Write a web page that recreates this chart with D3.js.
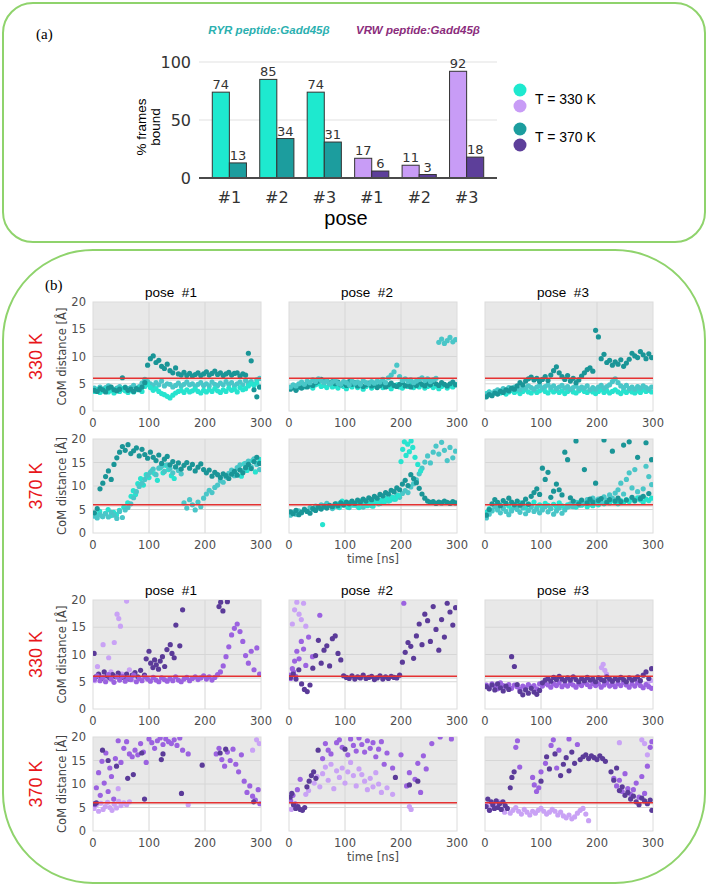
<!DOCTYPE html>
<html>
<head>
<meta charset="utf-8">
<script src="https://cdn.jsdelivr.net/npm/d3@7"></script>
<style>
body { margin: 0; background: #fff; }
text { font-family: "DejaVu Sans", sans-serif; }
</style>
</head>
<body>
<div id="fig"></div>
<script>
// ---------- panel (a) data ----------
var poseLabels = ["#1", "#2", "#3", "#1", "#2", "#3"];
var peptideOf = ["RYR", "RYR", "RYR", "VRW", "VRW", "VRW"];
var bound330 = [74, 85, 74, 17, 11, 92];
var bound370 = [13, 34, 31, 6, 3, 18];
var barTicks = [0, 50, 100];

// ---------- panel (b) data ----------
var timeTicks = [0, 100, 200, 300];
var distTicks = [0, 5, 10, 15, 20];
var cutoff = 6;
var poseTitles = ["pose  #1", "pose  #2", "pose  #3"];
var rowTemps = ["330 K", "370 K", "330 K", "370 K"];

// sampling times [ns] for the dense series
var times = [2.5,7.5,12.5,17.5,22.5,27.5,32.5,37.5,42.5,47.5,
  52.5,57.5,62.5,67.5,72.5,77.5,82.5,87.5,92.5,97.5,
  102.5,107.5,112.5,117.5,122.5,127.5,132.5,137.5,142.5,147.5,
  152.5,157.5,162.5,167.5,172.5,177.5,182.5,187.5,192.5,197.5,
  202.5,207.5,212.5,217.5,222.5,227.5,232.5,237.5,242.5,247.5,
  252.5,257.5,262.5,267.5,272.5,277.5,282.5,287.5,292.5,297.5];

// RYR 330 K
var ryr330_p1_dark = [3.8,3.6,4.1,3.9,3.5,4.2,4.4,3.9,3.7,4.0,
  6.1,4.3,3.8,4.0,3.6,4.1,3.9,4.4,5.2,8.4,
  9.6,10.1,8.9,9.3,8.2,7.8,8.6,7.4,7.0,7.9,
  6.8,6.6,7.1,6.5,6.9,6.4,6.7,7.0,6.5,6.8,
  7.2,6.6,6.9,7.3,6.7,7.0,6.5,6.8,7.1,6.6,
  6.9,7.0,6.4,6.8,6.6,10.6,9.2,3.9,2.6,4.4];
var ryr330_p1_light = [3.6,3.9,3.4,3.7,4.0,3.5,3.8,3.3,3.9,3.6,
  4.1,3.7,3.4,3.8,3.5,3.9,4.2,3.6,4.5,4.9,
  4.3,3.8,4.1,3.6,3.2,3.0,2.7,2.4,2.9,3.3,
  3.6,3.8,3.4,3.9,3.5,3.7,4.0,3.6,3.3,3.8,
  3.5,3.9,3.6,4.1,3.7,3.4,3.9,3.6,4.2,3.8,
  4.0,3.5,4.3,3.9,4.1,4.6,5.0,4.7,5.2,4.4];
var ryr330_p1_mid = [4.2,3.9,4.4,4.0,4.3,4.6,4.1,3.8,4.2,4.5,
  4.0,4.4,4.1,4.3,4.7,4.2,4.5,5.1,5.8,5.4,
  5.0,4.7,5.2,4.8,5.5,4.6,5.0,4.9,4.4,4.7,
  5.1,4.6,4.9,5.3,4.8,5.0,4.5,4.9,5.2,4.7,
  5.0,4.6,5.3,4.9,4.7,5.1,4.8,5.4,4.9,5.2,
  4.6,5.0,5.3,4.8,5.6,5.1,5.4,4.9,5.7,6.0];
var ryr330_p2_dark = [4.0,4.3,3.8,4.5,4.2,4.6,4.4,4.9,4.7,5.2,
  5.5,5.8,5.3,5.6,5.1,5.4,5.0,5.3,4.8,5.1,
  4.7,5.4,4.9,5.2,4.6,5.0,4.5,4.8,5.1,4.6,
  4.9,4.3,4.7,5.0,4.4,4.8,5.1,4.7,4.5,4.9,
  5.2,4.6,4.8,4.4,5.0,4.7,5.3,4.9,4.6,5.1,
  4.8,5.4,5.0,4.7,5.2,4.9,4.6,5.0,5.3,4.8];
var ryr330_p2_mid = [4.4,4.8,4.6,5.0,5.3,4.9,5.5,5.2,5.7,5.4,
  5.9,5.6,5.2,5.5,5.0,5.3,5.6,5.1,4.9,5.4,
  5.2,4.8,5.5,5.1,5.3,4.9,5.6,5.2,5.0,5.4,
  5.1,5.5,5.3,5.8,5.2,6.1,6.6,7.2,8.4,6.3,
  5.6,5.9,5.4,5.7,5.2,5.5,5.8,6.1,5.6,5.9,
  5.4,5.7,6.0,12.6,13.2,12.4,12.9,13.5,12.7,13.1];
var ryr330_p2_light = [4.2,4.5,4.0,4.3,4.7,4.4,4.9,4.6,4.2,4.8,
  5.0,4.5,4.7,4.3,4.9,4.4,4.6,4.2,4.8,4.5,
  4.1,4.7,4.4,4.9,4.3,4.6,4.0,4.5,4.8,4.2,
  4.6,4.4,4.9,4.3,4.7,4.5,4.1,4.6,4.8,4.4,
  4.2,4.7,4.5,4.9,4.3,4.6,4.4,4.8,4.2,4.5,
  4.7,4.3,4.6,4.1,4.5,4.8,4.2,4.6,4.4,4.9];
var ryr330_p3_dark = [2.6,3.0,2.8,3.3,3.1,3.6,3.4,3.9,3.7,4.2,
  4.0,4.6,5.2,4.8,5.5,5.9,6.2,5.7,6.0,5.4,
  5.8,6.3,5.6,6.6,7.4,8.1,7.0,6.3,5.8,6.5,
  5.5,6.0,5.2,5.7,6.4,7.0,7.6,7.9,7.3,14.8,
  13.6,9.6,10.4,8.9,9.3,8.4,9.0,8.6,9.4,8.2,
  8.8,9.5,10.6,10.1,9.8,10.9,10.3,9.6,10.5,9.8];
var ryr330_p3_light = [3.2,3.5,3.0,3.4,3.7,3.3,3.6,3.1,3.5,3.8,
  3.4,3.7,3.2,3.6,3.9,3.5,3.3,3.8,3.4,3.7,
  4.0,3.6,3.3,3.9,3.5,3.8,3.4,3.7,3.2,3.6,
  3.9,3.5,3.3,3.7,4.0,3.6,3.4,3.8,3.5,3.2,
  3.6,3.9,3.4,3.7,3.3,3.6,3.9,3.5,3.2,3.7,
  3.4,3.8,3.5,3.3,3.7,3.4,3.9,3.6,3.8,3.5];
var ryr330_p3_mid = [3.0,3.4,3.2,3.6,3.9,3.7,4.1,3.8,4.3,4.0,
  4.4,4.1,3.9,4.5,4.2,4.6,4.3,4.0,4.4,4.7,
  4.2,4.5,4.8,4.3,4.6,4.1,4.4,4.7,4.2,4.5,
  4.0,4.3,4.6,4.1,4.4,4.2,4.6,3.9,4.3,4.0,
  4.4,4.7,4.2,4.5,4.8,5.4,5.9,5.2,4.6,4.3,
  4.7,4.1,4.4,4.0,4.5,4.2,4.6,4.3,4.0,4.4];

// RYR 370 K
var ryr370_p1_dark = [4.3,5.2,9.4,10.6,12.0,13.2,11.4,14.6,16.0,17.2,
  18.4,17.6,18.8,16.9,17.5,18.1,16.4,17.8,16.7,15.9,
  17.2,16.1,15.4,16.6,14.8,15.7,16.3,14.5,15.2,14.1,
  14.9,13.6,14.4,15.0,13.8,14.6,13.2,14.0,14.7,13.5,
  12.8,13.4,12.1,12.9,12.4,11.8,12.6,12.2,11.6,12.5,
  13.1,12.3,13.4,12.8,13.9,14.6,13.7,15.2,16.1,14.8];
var ryr370_p1_mid = [3.6,3.2,3.9,3.5,4.1,3.4,4.4,3.8,3.1,4.6,
  3.3,4.9,5.4,6.2,7.5,8.8,9.9,10.6,11.4,12.3,
  12.9,13.6,12.4,13.8,14.2,13.1,14.5,13.7,12.8,14.0,
  13.3,12.6,6.4,5.3,7.1,6.0,4.9,6.6,5.6,7.4,
  8.3,9.1,8.6,9.7,10.2,11.1,10.8,11.9,12.7,13.4,
  12.2,13.9,14.5,13.2,14.8,15.3,14.1,15.8,14.6,13.5];
var ryr370_p1_light = [[2,4.0],[7,3.8],[12,4.6],[17,3.5],[22,4.2],[27,5.0],[32,3.7],[37,4.4],[42,3.9],[47,4.8],
  [55,5.5],[62,6.4],[68,7.8],[72,9.0],[76,8.2],[80,10.5],[85,11.6],[90,10.2],[95,12.4],[100,11.8],
  [105,13.2],[110,12.6],[115,11.2],[120,13.9],[125,12.8],[130,14.4],[135,13.5],[140,12.2],[145,11.6],
  [255,12.6],[260,13.8],[265,12.1],[270,14.7],[275,13.3],[280,14.2],[285,15.4],[290,13.0],[295,14.9],[299,15.6]];
var ryr370_p2_dark = [4.5,4.1,4.8,3.9,4.4,5.0,4.6,4.2,5.2,4.8,
  5.5,5.1,5.7,5.3,5.9,5.6,6.2,5.8,6.4,6.0,
  6.6,6.2,6.8,6.3,7.0,6.6,7.2,6.8,7.5,7.1,
  7.8,7.4,8.2,7.9,8.6,8.3,9.1,8.8,9.6,9.2,
  10.4,11.2,10.1,12.4,11.6,10.7,9.5,8.3,7.4,6.8,
  6.5,6.7,6.3,6.6,6.4,6.8,6.5,6.3,6.7,6.4];
var ryr370_p2_mid = [3.8,4.4,4.0,4.7,4.3,5.1,4.6,5.4,5.0,5.7,
  5.3,6.0,5.5,6.3,5.8,5.2,6.1,5.6,6.5,5.9,
  6.2,5.4,6.7,6.0,5.7,6.4,5.5,6.9,6.2,5.8,
  6.6,7.1,6.3,6.9,7.4,6.8,7.7,7.2,8.1,7.6,
  8.4,9.0,8.6,9.8,10.5,11.3,12.6,13.8,15.1,16.4,
  14.9,17.2,18.5,16.8,19.3,17.6,15.4,18.2,16.0,17.4];
var ryr370_p2_light = [[60,1.8],[80,5.6],[85,6.2],[90,5.4],[95,6.8],[100,6.1],[105,5.5],[110,6.5],[115,5.9],[120,6.3],
  [125,5.4],[130,6.9],[135,6.1],[140,5.8],[145,6.4],[150,5.7],[155,6.7],[160,6.2],[165,7.0],[170,6.5],
  [175,7.3],[180,6.9],[185,7.6],[190,7.2],[195,8.0],[200,15.2],[203,17.8],[206,19.4],[209,16.5],[212,18.9],
  [215,17.3],[218,19.6],[221,18.2],[225,16.1],[230,14.6],[235,13.2]];
var ryr370_p3_dark = [3.8,5.0,6.2,7.1,6.5,5.8,6.9,6.3,7.4,6.6,
  6.0,6.8,5.9,6.4,7.2,6.1,7.8,8.6,9.4,8.2,
  13.8,11.4,12.9,7.6,8.9,10.4,9.2,8.1,17.2,15.6,
  7.5,6.8,19.6,6.2,7.0,13.5,6.4,7.2,6.6,10.6,
  6.9,7.3,19.8,6.5,7.1,17.4,6.8,7.4,6.7,18.7,
  7.0,19.4,7.6,6.9,16.1,7.3,7.8,19.2,8.4,15.6];
var ryr370_p3_mid = [3.2,4.0,4.8,5.6,4.9,4.3,5.2,4.6,3.9,4.7,
  5.4,5.0,4.4,5.3,4.1,4.8,5.5,4.6,5.1,4.3,
  4.9,5.6,4.5,5.2,4.0,4.7,5.3,4.2,4.9,5.5,
  6.2,5.6,6.5,5.9,6.8,6.3,7.1,6.6,7.4,6.8,
  7.2,6.5,7.7,7.0,8.1,7.4,8.5,9.2,10.6,8.3,
  11.4,12.8,9.6,13.5,8.8,7.6,9.4,14.2,12.0,10.3];
var ryr370_p3_light = [4.4,5.2,4.7,5.8,5.3,6.0,5.5,6.3,5.7,5.1,
  6.1,5.6,6.4,5.9,5.3,6.2,5.8,6.6,5.4,6.0,
  5.5,6.3,5.9,5.2,6.1,5.6,6.4,5.8,5.3,6.0,
  5.7,6.2,5.5,6.5,5.9,6.3,5.6,6.1,5.8,6.4,
  6.0,6.6,6.2,6.8,6.4,7.0,6.6,6.2,6.9,6.5,
  7.1,6.7,7.3,6.8,7.5,7.0,6.6,7.2,6.9,7.4];

// VRW 330 K
var vrw330_p1_dark = [[2,10.2],[5,5.9],[10,6.4],[15,5.6],[20,6.8],[25,6.1],[30,5.7],[35,6.3],[40,5.9],[45,6.6],
  [50,6.0],[55,5.8],[60,6.4],[65,5.5],[70,6.2],[75,6.7],[80,5.9],[85,7.1],[92,6.2],[95,9.2],
  [100,10.6],[103,8.4],[107,7.6],[110,9.0],[113,8.1],[117,7.3],[120,8.8],[124,9.6],[128,7.8],[132,10.9],
  [138,11.8],[141,10.2],[145,9.4],[148,15.4],[155,11.6],[160,18.2],[225,18.8],[228,19.6],[232,18.0],[240,19.7]];
var vrw330_p1_mid = [5.4,6.1,5.2,5.8,5.0,6.3,5.5,4.9,5.9,5.3,
  6.0,5.1,5.7,5.4,6.2,5.0,5.6,5.2,5.9,5.5,
  5.1,5.8,5.3,5.0,5.7,5.4,5.1,5.6,5.2,5.9,
  5.3,5.0,5.5,5.8,5.2,5.6,5.9,5.4,5.7,6.1,
  5.5,5.9,5.3,5.8,6.3,6.8,7.9,9.6,11.4,13.6,
  14.8,15.6,14.2,12.4,9.8,8.4,10.6,7.2,11.2,6.4];
var vrw330_p1_light = [[3,5.2],[8,7.8],[12,6.1],[18,11.8],[22,5.6],[28,9.4],[32,6.8],[38,12.2],[43,17.4],[46,16.6],
  [49,15.2],[52,6.4],[56,5.8],[60,19.8],[65,7.2],[70,5.4]];
var vrw330_p2_dark = [5.8,6.4,5.5,7.2,4.6,3.6,3.2,4.4,7.5,9.8,
  12.6,8.4,10.8,11.6,7.9,12.9,13.4,10.2,9.0,6.1,
  5.8,5.6,6.1,5.5,5.9,5.7,6.2,5.6,5.8,6.0,
  5.4,5.7,6.1,5.5,5.9,5.6,6.0,5.8,5.7,6.2,
  8.6,10.4,12.2,11.5,9.3,13.4,15.6,11.8,17.4,16.2,
  12.4,18.8,14.6,10.8,16.4,13.2,19.4,17.8,15.4,18.6];
var vrw330_p2_mid = [[2,6.2],[3,5.6],[6,7.4],[8,6.8],[10,8.8],[12,6.0],[14,10.6],[18,9.2],[22,12.4],[26,11.0],
  [30,8.0],[35,13.2],[42,9.6],[55,17.2],[205,19.4]];
var vrw330_p2_light = [[6,15.6],[10,18.2],[14,19.6],[18,17.4],[22,16.4],[26,19.4],[30,15.2]];
var vrw330_p3_dark = [4.1,3.7,4.4,3.5,4.6,3.9,3.3,4.2,3.6,9.6,
  7.8,4.5,3.2,2.6,3.5,2.9,3.8,3.1,2.7,3.4,
  4.8,5.3,5.6,5.1,5.8,5.4,6.0,5.5,5.2,5.7,
  5.3,5.9,5.4,5.0,5.6,5.2,5.8,5.3,5.5,5.0,
  5.7,5.4,5.2,5.9,5.5,5.1,5.6,5.3,5.8,5.4,
  5.0,5.7,5.3,5.5,5.9,5.2,6.2,6.8,5.6,7.4];
var vrw330_p3_mid = [4.4,3.9,4.6,4.2,3.7,4.8,4.3,4.0,4.5,3.8,
  4.4,4.1,3.6,4.2,3.9,4.5,4.0,4.3,3.7,4.6,
  4.2,4.7,4.4,4.0,4.6,4.3,4.8,4.1,4.5,4.2,
  4.7,4.4,4.0,4.6,4.3,4.9,4.5,4.1,4.7,4.3,
  4.6,4.0,4.4,4.8,4.2,4.5,4.1,4.7,4.3,4.9,
  4.4,4.0,4.6,4.2,4.8,4.3,3.9,4.5,4.1,3.8];
var vrw330_p3_light = [[208,7.6],[211,8.2],[214,7.1],[217,6.4],[290,4.6],[296,5.2]];

// VRW 370 K
var vrw370_p1_dark = [[3,5.8],[6,6.0],[17,17.2],[27,15.0],[42,13.8],[62,11.2],[72,12.0],[87,16.6],[92,6.8],[122,15.2],
  [125,16.4],[158,8.0],[195,14.0],[227,16.6],[237,17.4],[287,6.2]];
var vrw370_p1_mid = [[3,5.6],[6,9.2],[10,12.4],[13,7.6],[16,14.8],[20,10.2],[23,16.6],[27,8.4],[30,13.4],[33,11.6],
  [37,6.8],[40,15.4],[45,19.2],[50,14.6],[55,17.6],[60,19.0],[65,16.4],[70,15.8],[75,17.2],[80,16.2],
  [85,18.6],[90,16.8],[95,14.6],[100,19.6],[105,18.8],[110,17.6],[115,19.2],[120,19.8],[125,18.4],[130,19.6],
  [135,19.0],[140,18.6],[145,19.4],[150,18.2],[155,19.8],[160,17.2],[170,16.4],[220,16.4],[225,17.6],[230,15.2],
  [235,13.8],[240,16.8],[245,15.0],[250,17.4],[255,14.2],[260,12.6],[265,16.2],[270,10.6],[275,8.2],[280,9.6],
  [285,7.4],[290,6.6],[295,8.8],[298,5.8]];
var vrw370_p1_light = [[2,4.8],[6,5.6],[10,4.2],[14,5.9],[18,4.6],[22,5.2],[26,6.1],[30,5.0],[34,4.4],[38,5.7],
  [42,4.9],[45,9.0],[46,6.3],[50,5.4],[55,6.0],[60,5.6],[65,6.2],[170,5.6],[285,17.2],[292,19.4],[297,18.6]];
var vrw370_p2_dark = [[2,7.2],[5,8.0],[8,5.6],[12,4.8],[16,5.2],[20,4.6],[24,4.4],[28,5.0],[32,9.4],[36,10.6],
  [40,11.8],[44,12.6],[48,11.2],[52,17.2],[100,17.4],[190,11.4],[215,9.8],[230,10.6]];
var vrw370_p2_mid = [[3,6.4],[7,7.6],[11,5.8],[15,8.8],[20,11.0],[60,15.4],[65,18.6],[70,17.2],[75,16.4],[85,18.8],
  [90,19.4],[95,17.8],[105,16.2],[110,19.6],[115,18.2],[120,17.0],[125,19.8],[130,18.4],[135,16.8],[140,19.2],
  [145,17.6],[150,18.8],[155,15.8],[160,17.4],[165,19.0],[170,14.2],[175,16.6],[185,13.4],[200,16.2],[210,9.6],
  [215,12.4],[225,11.0],[230,14.4],[235,8.2],[240,16.0],[245,13.2],[255,18.6],[270,20.0],[290,19.6]];
var vrw370_p2_light = [[4,4.6],[30,7.8],[35,8.6],[45,10.2],[50,11.6],[55,9.4],[60,12.2],[65,13.6],[70,10.8],[75,14.2],
  [80,9.0],[85,12.8],[90,11.4],[95,13.4],[100,10.2],[105,12.6],[110,14.6],[115,11.8],[120,9.6],[125,13.2],
  [130,12.0],[135,10.6],[140,8.8],[145,11.2],[150,9.4],[155,12.4],[160,10.0],[165,8.2],[175,9.2],[185,7.8],
  [215,5.2],[218,4.6]];
var vrw370_p3_dark = [[2,5.2],[5,6.8],[8,4.4],[11,6.2],[14,5.6],[17,4.8],[20,6.4],[23,5.0],[26,5.8],[29,4.6],
  [32,6.2],[36,5.4],[40,4.8],[45,9.2],[48,11.4],[52,12.6],[100,10.6],[110,15.8],[115,13.2],[125,16.4],
  [135,11.8],[140,14.2],[145,15.6],[150,12.8],[155,16.8],[160,14.4],[170,15.2],[175,15.8],[180,16.2],[185,15.4],
  [190,16.0],[195,15.6],[200,15.2],[205,16.0],[210,15.4],[215,14.8],[225,12.6],[230,10.8],[235,13.4],[240,8.6],
  [245,9.4],[250,7.6],[255,8.2],[260,6.8],[265,7.4],[270,6.2],[275,5.6],[280,7.0],[285,6.4],[290,5.8],
  [295,6.6],[298,4.4]];
var vrw370_p3_mid = [[55,17.8],[58,19.2],[62,13.6],[85,11.4],[88,9.8],[92,8.4],[96,9.2],[100,12.6],[108,14.4],[118,18.2],
  [122,19.4],[128,13.4],[132,17.2],[150,19.6],[165,18.4],[230,11.2],[235,9.6],[240,10.8],[245,8.4],[250,12.2],
  [255,9.0],[260,7.8],[265,8.8],[270,10.2],[275,7.2],[280,11.6],[285,8.0],[290,13.8],[295,17.8],[298,19.0]];
var vrw370_p3_light = [[3,5.6],[8,4.4],[12,5.2],[16,4.8],[20,5.8],[25,6.2],[30,4.6],[35,4.0],[40,4.8],[45,3.8],
  [50,4.4],[55,5.0],[60,4.2],[65,3.6],[70,4.6],[75,4.0],[80,3.4],[85,4.2],[90,3.8],[95,4.4],
  [100,4.8],[105,4.2],[110,3.6],[115,4.0],[120,4.6],[125,4.2],[130,3.4],[135,4.0],[140,3.2],[145,2.8],
  [150,3.4],[155,2.6],[160,3.0],[165,3.8],[170,4.4],[175,4.8],[180,3.6],[185,2.2],[240,18.8],[280,19.4],
  [285,18.6],[290,16.2]];

// ---------- colours ----------
var ryrCol = { light: "#27e3cf", mid: "#4ac6c8", dark: "#1a9597" };
var vrwCol = { light: "#c9a2f5", mid: "#9b62e0", dark: "#5b3b99" };

var w = 709, h = 887;
var svg = d3.select("#fig").append("svg")
  .attr("width", w).attr("height", h)
  .style("background", "#fff");

// rounded frames
svg.append("rect").attr("x", 3).attr("y", 3).attr("width", 702).attr("height", 239)
  .attr("rx", 30).attr("fill", "none").attr("stroke", "#8fd36c").attr("stroke-width", 2);
svg.append("rect").attr("x", 3).attr("y", 250).attr("width", 702).attr("height", 633)
  .attr("rx", 90).attr("fill", "none").attr("stroke", "#8fd36c").attr("stroke-width", 2);

// ================= panel (a) =================
svg.append("text").attr("x", 36).attr("y", 39).text("(a)")
  .style("font-family", "'Liberation Serif', serif").style("font-size", "15px");
svg.append("text").attr("x", 269).attr("y", 34).attr("text-anchor", "middle")
  .text("RYR peptide:Gadd45β")
  .style("font-family", "'Liberation Sans', Arial, sans-serif").style("font-size", "11.5px")
  .style("font-weight", "bold").style("font-style", "italic").attr("fill", "#2bb0b0");
svg.append("text").attr("x", 418).attr("y", 34).attr("text-anchor", "middle")
  .text("VRW peptide:Gadd45β")
  .style("font-family", "'Liberation Sans', Arial, sans-serif").style("font-size", "11.5px")
  .style("font-weight", "bold").style("font-style", "italic").attr("fill", "#8b2d7c");

var xb = d3.scaleBand().domain(d3.range(poseLabels.length)).range([199, 497]).padding(0.28);
var yb = d3.scaleLinear().domain([0, 100]).range([178, 62]);
var half = xb.bandwidth() / 2;

var gA = svg.append("g");
gA.selectAll("line.grid").data(barTicks.filter(function(t) { return t > 0; }))
  .enter().append("line")
  .attr("x1", 199).attr("x2", 497)
  .attr("y1", function(d) { return yb(d); }).attr("y2", function(d) { return yb(d); })
  .attr("stroke", "#e2e2e2").attr("stroke-width", 1.2);
gA.selectAll("text.ytick").data(barTicks).enter().append("text")
  .attr("x", 191).attr("y", function(d) { return yb(d); }).attr("dy", "0.36em")
  .attr("text-anchor", "end").attr("fill", "#333").style("font-size", "16px")
  .text(function(d) { return d; });

function barColor(i, hot) {
  if (peptideOf[i] === "RYR") return hot ? "#1c9d9e" : "#1ee9cf";
  return hot ? "#5d3f9a" : "#c89cf6";
}
var groups = gA.selectAll("g.grp").data(d3.range(poseLabels.length)).enter().append("g");
groups.append("rect")
  .attr("x", function(i) { return xb(i); })
  .attr("y", function(i) { return yb(bound330[i]); })
  .attr("width", half).attr("height", function(i) { return yb(0) - yb(bound330[i]); })
  .attr("fill", function(i) { return barColor(i, false); })
  .attr("stroke", "#333").attr("stroke-width", 1);
groups.append("rect")
  .attr("x", function(i) { return xb(i) + half; })
  .attr("y", function(i) { return yb(bound370[i]); })
  .attr("width", half).attr("height", function(i) { return yb(0) - yb(bound370[i]); })
  .attr("fill", function(i) { return barColor(i, true); })
  .attr("stroke", "#333").attr("stroke-width", 1);
groups.append("text")
  .attr("x", function(i) { return xb(i) + half / 2; })
  .attr("y", function(i) { return yb(bound330[i]) - 3; })
  .attr("text-anchor", "middle").attr("fill", "#333").style("font-size", "13px")
  .text(function(i) { return bound330[i]; });
groups.append("text")
  .attr("x", function(i) { return xb(i) + half * 1.5; })
  .attr("y", function(i) { return yb(bound370[i]) - 3; })
  .attr("text-anchor", "middle").attr("fill", "#333").style("font-size", "13px")
  .text(function(i) { return bound370[i]; });
groups.append("text")
  .attr("x", function(i) { return xb(i) + half; })
  .attr("y", 203)
  .attr("text-anchor", "middle").attr("fill", "#333").style("font-size", "16px")
  .text(function(i) { return poseLabels[i]; });

gA.append("line").attr("x1", 199).attr("x2", 497).attr("y1", yb(0)).attr("y2", yb(0))
  .attr("stroke", "#4a4a4a").attr("stroke-width", 2);

gA.append("text").attr("transform", "translate(146,127) rotate(-90)")
  .attr("text-anchor", "middle").style("font-family", "'Liberation Sans', Arial, sans-serif")
  .style("font-size", "13.5px")
  .selectAll("tspan").data(["% frames", "bound"]).enter().append("tspan")
  .attr("x", 0).attr("dy", function(d, i) { return i ? "1.05em" : "0"; })
  .text(function(d) { return d; });
gA.append("text").attr("x", 346).attr("y", 225).attr("text-anchor", "middle")
  .style("font-family", "'Liberation Sans', Arial, sans-serif").style("font-size", "20px")
  .text("pose");

// legend
var legend = [
  { y: 90, c: "#1ee9cf" }, { y: 106, c: "#c89cf6" },
  { y: 129, c: "#1c9d9e" }, { y: 145, c: "#5d3f9a" }
];
gA.selectAll("circle.leg").data(legend).enter().append("circle")
  .attr("cx", 520).attr("cy", function(d) { return d.y; }).attr("r", 6.5)
  .attr("fill", function(d) { return d.c; });
gA.append("text").attr("x", 535).attr("y", 104).text("T = 330 K")
  .style("font-family", "'Liberation Sans', Arial, sans-serif").style("font-size", "14px");
gA.append("text").attr("x", 535).attr("y", 142).text("T = 370 K")
  .style("font-family", "'Liberation Sans', Arial, sans-serif").style("font-size", "14px");

// ================= panel (b) =================
svg.append("text").attr("x", 45).attr("y", 290).text("(b)")
  .style("font-family", "'Liberation Serif', serif").style("font-size", "15px");

var rows = [
  { col: ryrCol, plots: [[ryr330_p1_mid, ryr330_p1_light, ryr330_p1_dark], [ryr330_p2_light, ryr330_p2_dark, ryr330_p2_mid], [ryr330_p3_light, ryr330_p3_mid, ryr330_p3_dark]],
    keys: [["mid", "light", "dark"], ["light", "dark", "mid"], ["light", "mid", "dark"]] },
  { col: ryrCol, plots: [[ryr370_p1_light, ryr370_p1_mid, ryr370_p1_dark], [ryr370_p2_mid, ryr370_p2_light, ryr370_p2_dark], [ryr370_p3_light, ryr370_p3_mid, ryr370_p3_dark]],
    keys: [["light", "mid", "dark"], ["mid", "light", "dark"], ["light", "mid", "dark"]] },
  { col: vrwCol, plots: [[vrw330_p1_light, vrw330_p1_dark, vrw330_p1_mid], [vrw330_p2_light, vrw330_p2_mid, vrw330_p2_dark], [vrw330_p3_light, vrw330_p3_mid, vrw330_p3_dark]],
    keys: [["light", "dark", "mid"], ["light", "mid", "dark"], ["light", "mid", "dark"]] },
  { col: vrwCol, plots: [[vrw370_p1_light, vrw370_p1_mid, vrw370_p1_dark], [vrw370_p2_light, vrw370_p2_mid, vrw370_p2_dark], [vrw370_p3_light, vrw370_p3_mid, vrw370_p3_dark]],
    keys: [["light", "mid", "dark"], ["light", "mid", "dark"], ["light", "mid", "dark"]] }
];
var rowTop = [302, 439, 600, 737];
var rowH = [109, 94, 109, 94];
var colLeft = [93, 289, 485];
var pw = 168;
var shadeFrom = 5.5;

function pts(s) {
  return s.map(function(v, i) {
    return Array.isArray(v) ? { t: v[0], d: v[1] } : { t: times[i], d: v };
  }).filter(function(p) { return p.d != null && p.t != null; });
}

rows.forEach(function(row, r) {
  var top = rowTop[r], ph = rowH[r];
  var y = d3.scaleLinear().domain([0, 20]).range([top + ph, top]);

  // temperature label
  svg.append("text")
    .attr("transform", "translate(42," + (top + ph / 2) + ") rotate(-90)")
    .attr("text-anchor", "middle").attr("fill", "#e8161b")
    .style("font-family", "'Liberation Sans', Arial, sans-serif").style("font-size", "18px")
    .text(rowTemps[r]);
  svg.append("text")
    .attr("transform", "translate(66," + (top + ph / 2) + ") rotate(-90)")
    .attr("text-anchor", "middle").attr("fill", "#444").style("font-size", "11.5px")
    .text("CoM distance [Å]");

  row.plots.forEach(function(series, c) {
    var left = colLeft[c];
    var x = d3.scaleLinear().domain([0, 300]).range([left, left + pw]);
    var g = svg.append("g");
    var cid = "clip" + r + c;
    svg.append("clipPath").attr("id", cid).append("rect")
      .attr("x", left).attr("y", top).attr("width", pw).attr("height", ph);

    g.append("rect").attr("x", left).attr("y", y(20)).attr("width", pw)
      .attr("height", y(shadeFrom) - y(20)).attr("fill", "#e8e8e8");
    g.selectAll("line.gx").data(timeTicks.slice(1, -1)).enter().append("line")
      .attr("x1", function(d) { return x(d); }).attr("x2", function(d) { return x(d); })
      .attr("y1", top).attr("y2", top + ph).attr("stroke", "#d6d6d6");
    g.selectAll("line.gy").data(distTicks.slice(1, -1)).enter().append("line")
      .attr("x1", left).attr("x2", left + pw)
      .attr("y1", function(d) { return y(d); }).attr("y2", function(d) { return y(d); })
      .attr("stroke", "#d6d6d6");
    g.append("rect").attr("x", left).attr("y", top).attr("width", pw).attr("height", ph)
      .attr("fill", "none").attr("stroke", "#dcdcdc");

    var dots = g.append("g").attr("clip-path", "url(#" + cid + ")");
    series.forEach(function(s, k) {
      dots.selectAll(null).data(pts(s)).enter().append("circle")
        .attr("cx", function(p) { return x(p.t); })
        .attr("cy", function(p) { return y(p.d); })
        .attr("r", 2.6)
        .attr("fill", row.col[row.keys[c][k]]);
    });

    g.append("line").attr("x1", left).attr("x2", left + pw)
      .attr("y1", y(cutoff)).attr("y2", y(cutoff))
      .attr("stroke", "#e53232").attr("stroke-width", 1.4);

    // x ticks
    g.selectAll("text.xt").data(timeTicks).enter().append("text")
      .attr("x", function(d) { return x(d); }).attr("y", top + ph + 16)
      .attr("text-anchor", "middle").attr("fill", "#4d4d4d").style("font-size", "11.5px")
      .text(function(d) { return d; });
    if (c === 0) {
      g.selectAll("text.yt").data(distTicks).enter().append("text")
        .attr("x", left - 7).attr("y", function(d) { return y(d); }).attr("dy", "0.36em")
        .attr("text-anchor", "end").attr("fill", "#4d4d4d").style("font-size", "11.5px")
        .text(function(d) { return d; });
    }
    if (r === 0 || r === 2) {
      g.append("text").attr("x", left + pw / 2 - 6).attr("y", top - 5)
        .attr("text-anchor", "middle").style("white-space", "pre")
        .style("font-family", "'Liberation Sans', Arial, sans-serif").style("font-size", "13.5px")
        .text(poseTitles[c]);
    }
    if ((r === 1 || r === 3) && c === 1) {
      g.append("text").attr("x", left + pw / 2).attr("y", top + ph + 30)
        .attr("text-anchor", "middle").attr("fill", "#4d4d4d").style("font-size", "11.5px")
        .text("time [ns]");
    }
  });
});
</script>
</body>
</html>
